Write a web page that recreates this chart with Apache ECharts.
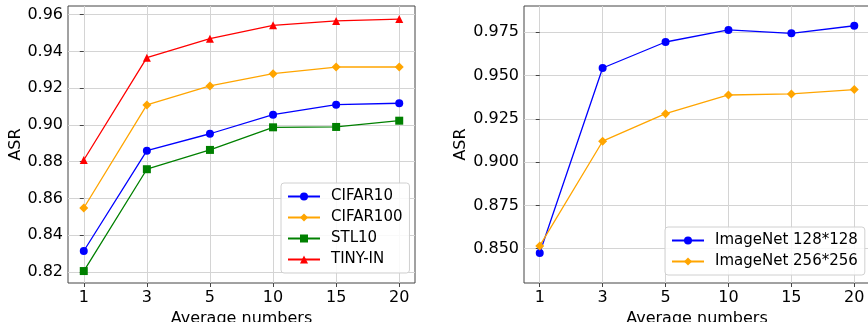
<!DOCTYPE html>
<html>
<head>
<meta charset="utf-8">
<script src="https://cdn.jsdelivr.net/npm/echarts@6/dist/echarts.min.js"></script>
<style>
  html, body { margin: 0; padding: 0; background: #fff; }
  #chart { width: 868px; height: 322px; }
</style>
</head>
<body>
<div id="chart"></div>
<script>
const categories = ['1', '3', '5', '10', '15', '20'];

// left panel
const cifar10 = [0.8314, 0.8860, 0.8952, 0.9056, 0.9110, 0.9118];
const cifar100 = [0.8548, 0.9109, 0.9212, 0.9279, 0.9315, 0.9315];
const stl10 = [0.8205, 0.8759, 0.8864, 0.8987, 0.8989, 0.9023];
const tinyIn = [0.8809, 0.9366, 0.9469, 0.9542, 0.9566, 0.9576];
const leftTicks = [0.82, 0.84, 0.86, 0.88, 0.90, 0.92, 0.94, 0.96];

// right panel
const imagenet128 = [0.8475, 0.9544, 0.9694, 0.9764, 0.9744, 0.9788];
const imagenet256 = [0.8516, 0.9121, 0.9280, 0.9388, 0.9394, 0.9419];
const rightTicks = [0.850, 0.875, 0.900, 0.925, 0.950, 0.975];

const font = 'DejaVu Sans';
const idx = categories.map((c, i) => i);
const pts = arr => arr.map((v, i) => [i, v]);

const xAxisBase = (gridIndex) => ({
  type: 'value',
  gridIndex: gridIndex,
  min: -0.25,
  max: 5.25,
  name: 'Average numbers',
  nameLocation: 'middle',
  nameGap: 22,
  nameTextStyle: { fontFamily: font, fontSize: 16, color: '#000' },
  axisLine: { show: false },
  axisTick: { show: true, inside: false, length: 4, customValues: idx, lineStyle: { color: '#444' } },
  axisLabel: {
    customValues: idx,
    fontFamily: font, fontSize: 16, color: '#000', margin: 7,
    formatter: v => categories[Math.round(v)]
  },
  splitLine: { show: true, lineStyle: { color: '#d4d4d4', width: 1 } }
});

const yAxisBase = (gridIndex, min, max, ticks, digits, gap) => ({
  type: 'value',
  gridIndex: gridIndex,
  min: min,
  max: max,
  name: 'ASR',
  nameLocation: 'middle',
  nameGap: gap,
  nameTextStyle: { fontFamily: font, fontSize: 16, color: '#000' },
  axisLine: { show: false },
  axisTick: { show: true, inside: false, length: 4, customValues: ticks, lineStyle: { color: '#444' } },
  axisLabel: {
    customValues: ticks,
    fontFamily: font, fontSize: 16, color: '#000', margin: 5,
    formatter: v => v.toFixed(digits)
  },
  splitLine: { show: true, lineStyle: { color: '#d4d4d4', width: 1 } }
});

const lineSeries = (name, data, color, symbol, size, axis) => ({
  name: name,
  type: 'line',
  xAxisIndex: axis,
  yAxisIndex: axis,
  data: pts(data),
  symbol: symbol,
  symbolSize: size,
  showAllSymbol: true,
  lineStyle: { color: color, width: 1.3 },
  itemStyle: { color: color },
  emphasis: { disabled: true }
});

const legendBase = {
  orient: 'vertical',
  backgroundColor: 'rgba(255,255,255,0.85)',
  borderColor: '#d0d0d0',
  borderWidth: 1,
  borderRadius: 3,
  itemWidth: 32,
  itemHeight: 10,
  itemGap: 6,
  textStyle: { fontFamily: font, fontSize: 15, color: '#000', padding: [0, 0, 0, 6] }
};

const chart = echarts.init(document.getElementById('chart'), null, { renderer: 'canvas' });
chart.setOption({
  animation: false,
  grid: [
    { left: 68, top: 6, width: 347, height: 277, outerBoundsMode: 'none', containLabel: false,
      show: true, borderColor: '#444', borderWidth: 1, backgroundColor: 'transparent' },
    { left: 524, top: 6, width: 346, height: 277, outerBoundsMode: 'none', containLabel: false,
      show: true, borderColor: '#444', borderWidth: 1, backgroundColor: 'transparent' }
  ],
  xAxis: [xAxisBase(0), xAxisBase(1)],
  yAxis: [
    yAxisBase(0, 0.814, 0.9647, leftTicks, 2, 42),
    yAxisBase(1, 0.8302, 0.9902, rightTicks, 3, 51)
  ],
  legend: [
    Object.assign({}, legendBase, {
      data: ['CIFAR10', 'CIFAR100', 'STL10', 'TINY-IN'],
      left: 281, top: 183, padding: [6, 7, 6, 6]
    }),
    Object.assign({}, legendBase, {
      data: ['ImageNet 128*128', 'ImageNet 256*256'],
      left: 665, top: 227, padding: [6, 7, 6, 6]
    })
  ],
  series: [
    lineSeries('CIFAR10', cifar10, '#0000ff', 'circle', 8, 0),
    lineSeries('CIFAR100', cifar100, '#ffa500', 'diamond', 9, 0),
    lineSeries('STL10', stl10, '#008000', 'rect', 8, 0),
    lineSeries('TINY-IN', tinyIn, '#ff0000', 'triangle', 8, 0),
    lineSeries('ImageNet 128*128', imagenet128, '#0000ff', 'circle', 8, 1),
    lineSeries('ImageNet 256*256', imagenet256, '#ffa500', 'diamond', 9, 1)
  ]
});
window.addEventListener('resize', () => chart.resize());
</script>
</body>
</html>
